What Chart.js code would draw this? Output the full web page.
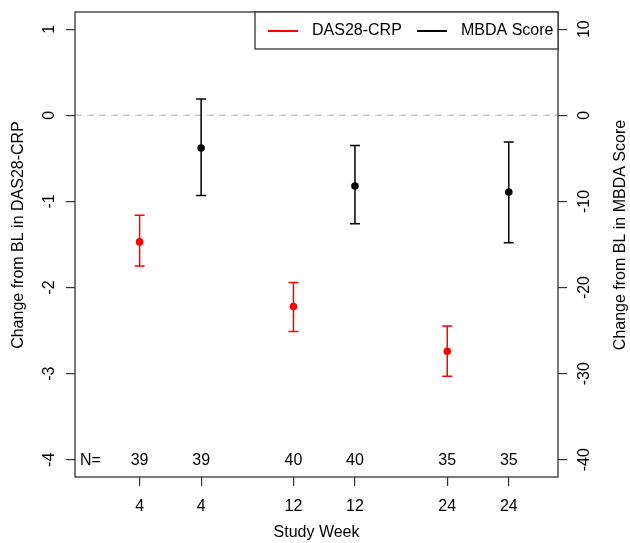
<!DOCTYPE html>
<html>
<head>
<meta charset="utf-8">
<script src="https://cdn.jsdelivr.net/npm/chart.js@4.4.1/dist/chart.umd.min.js"></script>
<style>
  body { margin: 0; background: #fff; }
  #wrap { width: 630px; height: 543px; }
</style>
</head>
<body>
<div id="wrap"><canvas id="chart" width="630" height="543"></canvas></div>
<script>
const weekLabels = ['4', '4', '12', '12', '24', '24'];
const slots = [1, 2, 3.5, 4.5, 6, 7];
const nCounts = [39, 39, 40, 40, 35, 35];

// DAS28-CRP (left axis)
const dasSlots = [1, 3.5, 6];
const dasMean = [-1.47, -2.22, -2.74];
const dasLow = [-1.75, -2.51, -3.03];
const dasHigh = [-1.16, -1.94, -2.445];

// MBDA score (right axis)
const mbdaSlots = [2, 4.5, 7];
const mbdaMean = [-3.8, -8.2, -8.9];
const mbdaLow = [-9.3, -12.6, -14.8];
const mbdaHigh = [1.9, -3.5, -3.1];

const leftTicks = [-4, -3, -2, -1, 0, 1];
const rightTicks = [-40, -30, -20, -10, 0, 10];

const FAMILY = '"Liberation Sans", Arial, sans-serif';
const FONT = '16px ' + FAMILY;
Chart.defaults.font.family = FAMILY;
Chart.defaults.font.size = 16;
Chart.defaults.color = '#000';

function points(xs, ys) {
  return xs.map((x, i) => ({ x, y: ys[i] }));
}

const decor = {
  id: 'decor',
  beforeDatasetsDraw(chart) {
    const { ctx, chartArea: a, scales } = chart;
    ctx.save();
    // dashed zero line
    ctx.strokeStyle = '#c8c8c8';
    ctx.lineWidth = 1.5;
    ctx.setLineDash([7, 5]);
    const y0 = scales.y.getPixelForValue(0);
    ctx.beginPath();
    ctx.moveTo(a.left, y0);
    ctx.lineTo(a.right, y0);
    ctx.stroke();
    ctx.setLineDash([]);

    // error bars
    chart.data.datasets.forEach(ds => {
      const ys = scales[ds.yAxisID];
      ctx.strokeStyle = ds.backgroundColor;
      ctx.lineWidth = 1.5;
      ds.data.forEach((p, i) => {
        const x = scales.x.getPixelForValue(p.x);
        const lo = ys.getPixelForValue(ds.low[i]);
        const hi = ys.getPixelForValue(ds.high[i]);
        ctx.beginPath();
        ctx.moveTo(x, lo); ctx.lineTo(x, hi);
        ctx.moveTo(x - 5, lo); ctx.lineTo(x + 5, lo);
        ctx.moveTo(x - 5, hi); ctx.lineTo(x + 5, hi);
        ctx.stroke();
      });
    });
    ctx.restore();
  },
  afterDraw(chart) {
    const { ctx, chartArea: a, scales } = chart;
    ctx.save();
    // plot box
    ctx.strokeStyle = '#333';
    ctx.lineWidth = 1.3;
    ctx.strokeRect(a.left, a.top, a.right - a.left, a.bottom - a.top);

    ctx.fillStyle = '#000';
    ctx.font = FONT;
    ctx.textAlign = 'center';
    ctx.textBaseline = 'middle';

    // rotated y tick labels, both axes
    const rotText = (txt, x, y) => {
      ctx.save();
      ctx.translate(x, y);
      ctx.rotate(-Math.PI / 2);
      ctx.fillText(txt, 0, 0);
      ctx.restore();
    };
    scales.y.ticks.forEach(t => rotText(String(t.value), 50, scales.y.getPixelForValue(t.value)));
    scales.y2.ticks.forEach(t => rotText(String(t.value), 585, scales.y2.getPixelForValue(t.value)));

    // axis titles (both read bottom to top)
    rotText('Change from BL in DAS28-CRP', 18.5, 235);
    rotText('Change from BL in MBDA Score', 621, 235);

    // N= row
    const ny = scales.y.getPixelForValue(-4) + 1;
    ctx.textAlign = 'left';
    ctx.fillText('N=', a.left + 5, ny);
    ctx.textAlign = 'center';
    slots.forEach((s, i) => ctx.fillText(String(nCounts[i]), scales.x.getPixelForValue(s), ny));

    // legend
    const lx = 255, ly = a.top, lh = 37;
    ctx.fillStyle = '#fff';
    ctx.fillRect(lx, ly, a.right - lx, lh);
    ctx.strokeStyle = '#333';
    ctx.lineWidth = 1.3;
    ctx.strokeRect(lx, ly, a.right - lx, lh);
    const my = ly + 19;
    ctx.lineWidth = 2;
    ctx.strokeStyle = '#ff0000';
    ctx.beginPath(); ctx.moveTo(268, my); ctx.lineTo(298, my); ctx.stroke();
    ctx.strokeStyle = '#000';
    ctx.beginPath(); ctx.moveTo(417, my); ctx.lineTo(447, my); ctx.stroke();
    ctx.fillStyle = '#000';
    ctx.textAlign = 'left';
    ctx.fillText('DAS28-CRP', 312, my);
    ctx.fillText('MBDA Score', 461, my);
    ctx.restore();
  }
};

const tickGrid = { drawOnChartArea: false, drawTicks: true, tickLength: 9, color: '#333', lineWidth: 1.2 };

new Chart(document.getElementById('chart'), {
  type: 'scatter',
  data: {
    datasets: [
      {
        label: 'DAS28-CRP',
        data: points(dasSlots, dasMean),
        low: dasLow,
        high: dasHigh,
        yAxisID: 'y',
        backgroundColor: '#ff0000',
        borderWidth: 0,
        pointRadius: 3.8
      },
      {
        label: 'MBDA Score',
        data: points(mbdaSlots, mbdaMean),
        low: mbdaLow,
        high: mbdaHigh,
        yAxisID: 'y2',
        backgroundColor: '#000000',
        borderWidth: 0,
        pointRadius: 3.8
      }
    ]
  },
  options: {
    responsive: false,
    animation: false,
    devicePixelRatio: 1,
    layout: { padding: { top: 12, left: 0, right: 0, bottom: 0 } },
    plugins: { legend: { display: false }, tooltip: { enabled: false } },
    scales: {
      x: {
        type: 'linear',
        min: -0.05,
        max: 7.8,
        grid: tickGrid,
        border: { display: false },
        afterBuildTicks: s => { s.ticks = slots.map(v => ({ value: v })); },
        afterFit: s => { s.height = 66; },
        ticks: { padding: 11, maxRotation: 0, callback: (v, i) => weekLabels[i] },
        title: { display: true, text: 'Study Week', padding: { top: 0, bottom: 1 } }
      },
      y: {
        position: 'left',
        min: -4.2,
        max: 1.2,
        grid: tickGrid,
        border: { display: false },
        afterBuildTicks: s => { s.ticks = leftTicks.map(v => ({ value: v })); },
        afterFit: s => { s.width = 75; },
        ticks: { display: false }
      },
      y2: {
        position: 'right',
        min: -42,
        max: 12,
        grid: tickGrid,
        border: { display: false },
        afterBuildTicks: s => { s.ticks = rightTicks.map(v => ({ value: v })); },
        afterFit: s => { s.width = 72; },
        ticks: { display: false }
      }
    }
  },
  plugins: [decor]
});
</script>
</body>
</html>
